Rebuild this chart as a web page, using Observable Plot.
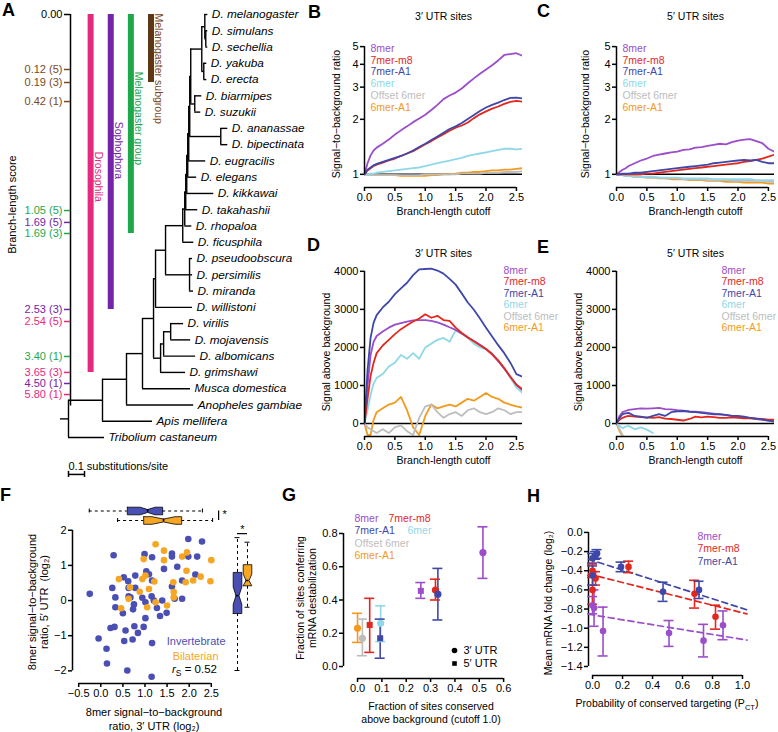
<!DOCTYPE html>
<html>
<head>
<meta charset="utf-8">
<script src="https://cdn.jsdelivr.net/npm/d3@7"></script>
<script src="https://cdn.jsdelivr.net/npm/@observablehq/plot@0.6"></script>
<style>
  html, body { margin: 0; padding: 0; background: #fff; overflow: hidden; }
  #fig { position: relative; width: 778px; height: 732px; overflow: hidden; background: #fff;
         font-family: "Liberation Sans", Arial, Helvetica, sans-serif; color: #000; }
</style>
</head>
<body>
<div id="fig"></div>
<script>
// ======================= DATA =======================
// ---- Panel A: tree ----
const leaves = ["D. melanogaster","D. simulans","D. sechellia","D. yakuba","D. erecta","D. biarmipes","D. suzukii",
  "D. ananassae","D. bipectinata","D. eugracilis","D. elegans","D. kikkawai","D. takahashii","D. rhopaloa",
  "D. ficusphila","D. pseudoobscura","D. persimilis","D. miranda","D. willistoni","D. virilis","D. mojavensis",
  "D. albomicans","D. grimshawi","Musca domestica","Anopheles gambiae","Apis mellifera","Tribolium castaneum"];
// [child, parent, branch length in substitutions/site]
const treeEdges = [
  ["root", null, 0.05],
  ["Tribolium castaneum", "root", 0.225],
  ["n1", "root", 0.2125],
  ["Apis mellifera", "n1", 0.3125],
  ["n2", "n1", 0.15],
  ["Anopheles gambiae", "n2", 0.42],
  ["n3", "n2", 0.1],
  ["Musca domestica", "n3", 0.3],
  ["drosophila", "n3", 0.069],
  ["sophophora", "drosophila", 0.0125],
  ["subgenus", "drosophila", 0.044],
  ["D. willistoni", "sophophora", 0.231],
  ["n4", "sophophora", 0.0625],
  ["obscura", "n4", 0.15],
  ["D. pseudoobscura", "obscura", 0.019],
  ["D. persimilis", "obscura", 0.019],
  ["D. miranda", "obscura", 0.025],
  ["melgroup", "n4", 0.1075],
  ["D. ficusphila", "melgroup", 0.069],
  ["m2", "melgroup", 0.0125],
  ["D. rhopaloa", "m2", 0.044],
  ["m3", "m2", 0.00625],
  ["D. takahashii", "m3", 0.075],
  ["m4", "m3", 0.00625],
  ["D. kikkawai", "m4", 0.169],
  ["m5", "m4", 0.00625],
  ["D. elegans", "m5", 0.056],
  ["m6", "m5", 0.00625],
  ["D. eugracilis", "m6", 0.106],
  ["m7", "m6", 0.00625],
  ["ana", "m7", 0.194],
  ["D. ananassae", "ana", 0.044],
  ["D. bipectinata", "ana", 0.044],
  ["m8", "m7", 0.00625],
  ["suz", "m8", 0.025],
  ["D. biarmipes", "suz", 0.044],
  ["D. suzukii", "suz", 0.0375],
  ["melsub", "m8", 0.069],
  ["ms", "melsub", 0.019],
  ["D. melanogaster", "ms", 0.019],
  ["ss", "ms", 0.006],
  ["D. simulans", "ss", 0.0125],
  ["D. sechellia", "ss", 0.0125],
  ["ye", "melsub", 0.0125],
  ["D. yakuba", "ye", 0.019],
  ["D. erecta", "ye", 0.019],
  ["vg", "subgenus", 0.019],
  ["D. grimshawi", "subgenus", 0.156],
  ["vm", "vg", 0.044],
  ["D. albomicans", "vg", 0.2],
  ["D. virilis", "vm", 0.081],
  ["D. mojavensis", "vm", 0.125]
];
const scaleBarLength = 0.1;
const scaleBarLabel = "0.1 substitutions/site";

// branch-length score axis (tick label, row of the tree it sits on, clade)
const scoreLabels = ["0.00","0.12 (5)","0.19 (3)","0.42 (1)","1.05 (5)","1.69 (5)","1.69 (3)","2.53 (3)","2.54 (5)","3.40 (1)","3.65 (3)","4.50 (1)","5.80 (1)"];
const scoreRows   = [0, 3.38, 4.18, 5.35, 12.05, 12.78, 13.46, 18.13, 18.87, 21.02, 22.0, 22.68, 23.36];
const scoreClade  = [null,"Melanogaster subgroup","Melanogaster subgroup","Melanogaster subgroup","Melanogaster group","Sophophora","Melanogaster group","Sophophora","Drosophila","Melanogaster group","Drosophila","Sophophora","Drosophila"];
const cladeNames  = ["Drosophila","Sophophora","Melanogaster group","Melanogaster subgroup"];
const cladeEndTick = ["3.65 (3)","2.53 (3)","1.69 (3)","0.19 (3)"];
const cladeColors = ["#e5297f","#7424a8","#1fa84b","#5e3816"];
const cladeTextColors = ["#e5297f","#7424a8","#1fa84b","#7a4a22"];

// ---- Panels B-E: site types ----
const siteTypes  = ["8mer","7mer-m8","7mer-A1","6mer","Offset 6mer","6mer-A1"];
const siteColors = ["#9b4dca","#e2281e","#3f48a8","#8fd8e8","#bdbdbd","#f39a1e"];
const cutoffs = [0,0.05,0.1,0.15,0.2,0.3,0.4,0.5,0.6,0.7,0.8,0.9,1.0,1.1,1.2,1.3,1.4,1.5,1.6,1.7,1.8,1.9,2.0,2.1,2.2,2.3,2.4,2.5,2.6];
const cutoffTicks = [0,0.5,1,1.5,2,2.5];

// B: 3' UTR signal-to-background ratio
const b8mer = [1.00,1.15,1.27,1.35,1.40,1.47,1.55,1.65,1.74,1.83,1.93,2.02,2.12,2.25,2.40,2.58,2.70,2.80,2.95,3.15,3.35,3.55,3.75,3.95,4.20,4.50,4.55,4.60,4.45];
const b7m8  = [1.00,1.05,1.08,1.11,1.13,1.16,1.19,1.22,1.26,1.30,1.34,1.40,1.46,1.52,1.59,1.66,1.73,1.80,1.85,1.92,2.03,2.13,2.21,2.29,2.35,2.43,2.49,2.52,2.50];
const b7A1  = [1.00,1.06,1.09,1.12,1.14,1.17,1.20,1.23,1.26,1.30,1.35,1.41,1.47,1.54,1.61,1.69,1.77,1.83,1.91,2.01,2.11,2.22,2.32,2.40,2.47,2.55,2.62,2.63,2.60];
const b6mer = [1.00,1.00,1.01,1.01,1.02,1.03,1.04,1.05,1.06,1.07,1.08,1.09,1.11,1.13,1.15,1.17,1.19,1.21,1.23,1.26,1.28,1.30,1.32,1.34,1.36,1.38,1.38,1.37,1.38];
const bOff6 = [1.00,0.99,0.99,0.99,0.99,0.99,0.99,0.99,0.99,0.99,0.99,0.99,1.00,1.00,1.00,1.00,1.00,1.00,1.01,1.01,1.01,1.01,1.02,1.02,1.02,1.03,1.03,1.03,1.04];
const b6A1  = [1.00,1.00,1.00,0.99,0.99,0.99,0.99,0.99,0.98,0.98,0.98,0.98,0.98,0.99,0.99,1.00,1.00,1.01,1.02,1.02,1.03,1.03,1.04,1.05,1.05,1.06,1.06,1.07,1.08];
// C: 5' UTR signal-to-background ratio
const c8mer = [1.00,1.03,1.06,1.08,1.11,1.15,1.19,1.22,1.26,1.28,1.30,1.32,1.33,1.36,1.37,1.40,1.41,1.43,1.45,1.47,1.46,1.50,1.53,1.55,1.56,1.52,1.48,1.38,1.33];
const c7m8  = [1.00,1.00,1.00,1.00,1.00,1.00,1.00,1.01,1.01,1.02,1.03,1.04,1.05,1.06,1.07,1.08,1.09,1.10,1.11,1.12,1.13,1.14,1.15,1.17,1.18,1.20,1.22,1.25,1.28];
const c7A1  = [1.00,1.00,1.01,1.01,1.01,1.02,1.02,1.03,1.04,1.05,1.06,1.07,1.08,1.09,1.10,1.11,1.12,1.13,1.15,1.16,1.17,1.18,1.19,1.20,1.19,1.20,1.17,1.15,1.15];
const c6mer = [1.00,0.99,0.99,0.98,0.98,0.98,0.97,0.97,0.97,0.96,0.96,0.96,0.96,0.95,0.95,0.95,0.95,0.95,0.94,0.94,0.94,0.94,0.94,0.94,0.94,0.93,0.93,0.93,0.93];
const cOff6 = [1.00,0.99,0.99,0.98,0.98,0.97,0.97,0.96,0.96,0.96,0.95,0.95,0.95,0.94,0.94,0.94,0.94,0.93,0.93,0.93,0.93,0.92,0.92,0.92,0.92,0.92,0.92,0.91,0.91];
const c6A1  = [1.00,0.99,0.99,0.98,0.98,0.97,0.97,0.96,0.96,0.95,0.95,0.94,0.94,0.94,0.93,0.93,0.93,0.92,0.92,0.92,0.91,0.91,0.91,0.90,0.90,0.90,0.90,0.89,0.89];
// D: 3' UTR signal above background
const d8mer = [0,1000,1800,2150,2300,2420,2520,2600,2640,2680,2710,2720,2720,2700,2660,2600,2530,2460,2370,2270,2170,2070,1960,1820,1640,1440,1230,1020,870];
const d7m8  = [0,650,1250,1600,1850,2050,2200,2350,2480,2580,2680,2760,2870,2780,2830,2720,2700,2520,2380,2260,2160,2060,1960,1820,1660,1460,1230,1020,900];
const d7A1  = [0,1400,2250,2650,2850,3050,3200,3400,3550,3700,3900,4050,4060,4070,4020,3940,3800,3650,3420,3180,2990,2760,2520,2290,2060,1850,1600,1300,1230];
const d6mer = [0,350,750,1050,1200,1300,1500,1600,1800,1700,1850,1700,2000,2100,2200,2250,2150,2450,2350,2250,2100,2000,1950,1850,1650,1450,1200,950,800];
const dOff6 = [0,-100,-150,-200,-250,-150,-250,-100,-50,-200,-300,150,450,500,300,150,250,300,200,350,400,300,250,300,400,350,250,300,300];
const d6A1  = [0,-300,-300,100,300,400,500,550,700,350,-100,-300,200,500,400,450,500,450,550,650,600,700,800,700,650,550,500,450,420];
// E: 5' UTR signal above background (null = below the visible range)
const e8mer = [0,200,300,330,360,380,400,390,400,410,380,370,350,340,320,310,300,280,260,240,220,200,180,160,140,120,100,80,60];
const e7m8  = [0,100,150,180,200,180,170,160,150,170,130,120,100,80,120,180,160,180,170,150,150,160,150,140,140,130,120,100,100];
const e7A1  = [0,150,250,270,280,200,180,150,200,250,200,300,320,330,310,300,280,260,240,250,230,200,200,180,150,130,110,80,50];
const e6mer = [0,-60,-120,-80,-60,-150,-100,-160,-250,null,null,null,null,null,null,null,null,null,null,null,null,null,null,null,null,null,null,null,null];
const eOff6 = [0,-150,-300,null,null,null,null,null,null,null,null,null,null,null,null,null,null,null,null,null,null,null,null,null,null,null,null,null,null];
const e6A1  = [0,-200,-330,null,null,null,null,null,null,null,null,null,null,null,null,null,null,null,null,null,null,null,null,null,null,null,null,null,null];

// ---- Panel F ----
const invX = [-0.25,-0.05,0.13,0.14,0.29,0.26,0.22,0.31,0.33,0.33,0.52,0.50,0.56,0.53,0.60,0.62,0.63,0.63,0.67,0.75,0.73,0.78,0.78,0.76,0.72,0.84,0.97,0.94,1.03,1.09,1.16,0.99,1.16,1.01,1.01,1.15,1.20,1.16,1.15,1.27,1.34,1.39,1.43,1.49,1.61,1.61,1.61,1.67,1.73,1.84,1.84,1.98,1.98,2.14,2.18,2.29];
const invY = [0.19,-1.08,-1.37,-1.79,1.29,0.36,-0.78,-0.75,0.09,-0.19,0.66,-0.36,-0.85,-1.15,-1.99,0.55,0.36,0.12,0.09,-0.11,-0.25,0.36,0.71,-0.73,-1.11,-0.92,-0.75,0.08,0.83,0.75,0.57,1.32,1.23,-0.50,-0.05,0.12,0.00,-1.21,-2.17,-0.21,-0.44,0.00,0.90,-0.35,1.34,1.25,0.40,0.05,0.96,0.05,0.57,1.25,1.75,0.74,1.25,1.68];
const bilX = [0.41,0.46,0.63,0.97,0.94,1.01,1.09,1.05,1.24,1.24,1.21,1.43,1.43,1.50,1.64,1.65,1.65,1.84,1.95,1.92,1.94,2.09,2.26,2.50,2.48,0.66,0.88];
const bilY = [0.61,-0.22,0.05,1.18,0.61,0.71,0.33,-0.19,1.60,-0.05,0.54,1.42,1.15,-0.14,0.52,0.24,0.09,1.25,1.37,0.52,0.85,0.57,0.68,1.15,0.55,0.38,0.25];
const boxGroups = ["Invertebrate","Bilaterian"];
const boxColors = ["#4a4fb3","#f5a623"];
const box3Lo  = [-0.26, 0.38], box3Q1 = [0.60, 0.97], box3Med = [1.06, 1.42], box3Q3 = [1.40, 1.83], box3Hi = [2.30, 2.53];
const box5Lo  = [-1.99, -0.19], box5Q1 = [-0.37, 0.42], box5Med = [0.14, 0.57], box5Q3 = [0.80, 1.02], box5Hi = [1.79, 1.66];
const spearman = "0.52";

// ---- Panel G ----
const g3X  = [0.515, 0.32, 0.33, 0.095, 0.02, 0.0];
const g3Y  = [0.685, 0.46, 0.435, 0.26, 0.17, 0.23];
const g3Lo = [0.53, 0.40, 0.28, 0.15, 0.065, 0.145];
const g3Hi = [0.84, 0.525, 0.59, 0.365, 0.285, 0.32];
const g5Types = ["8mer","7mer-m8","7mer-A1"];
const g5X  = [0.26, 0.05, 0.093];
const g5Y  = [0.455, 0.25, 0.17];
const g5Lo = [0.41, 0.085, 0.05];
const g5Hi = [0.505, 0.41, 0.285];

// ---- Panel H ----
const h8X  = [0.00, 0.01, 0.07, 0.51, 0.74, 0.87];
const h8Y  = [-0.76, -0.79, -1.03, -1.05, -1.13, -0.97];
const h8Lo = [-0.85, -0.98, -1.29, -1.19, -1.30, -1.12];
const h8Hi = [-0.67, -0.60, -0.78, -0.92, -0.96, -0.82];
const h7X  = [0.00, 0.00, 0.02, 0.24, 0.68, 0.82];
const h7Y  = [-0.40, -0.60, -0.48, -0.36, -0.64, -0.88];
const h7Lo = [-0.47, -0.75, -0.55, -0.42, -0.79, -1.01];
const h7Hi = [-0.33, -0.45, -0.41, -0.30, -0.50, -0.76];
const hAX  = [0.00, 0.02, 0.03, 0.00, 0.19, 0.47, 0.71];
const hAY  = [-0.27, -0.24, -0.22, -0.45, -0.36, -0.62, -0.60];
const hALo = [-0.32, -0.28, -0.27, -0.55, -0.41, -0.72, -0.69];
const hAHi = [-0.22, -0.20, -0.18, -0.35, -0.31, -0.52, -0.51];

// ======================= RENDERING =======================
const FONT = '"Liberation Sans", Arial, Helvetica, sans-serif';
const FS = 10.5;
const fig = document.getElementById("fig");
function put(node, left, top) {
  node.style.position = "absolute";
  node.style.left = left + "px";
  node.style.top = top + "px";
  fig.appendChild(node);
  return node;
}
function draw(left, top, opts) {
  const svg = Plot.plot(Object.assign({}, opts, {
    style: {background: "transparent", overflow: "visible", fontFamily: FONT, fontSize: FS + "px", color: "#000", maxWidth: "none"}
  }));
  return put(svg, left, top);
}
function htmlText(content, x, y, {anchor = "start", size = FS, color = "#000", weight = "normal"} = {}) {
  const d = document.createElement("div");
  d.innerHTML = content;
  d.style.cssText = `white-space:nowrap;font-family:${FONT};font-size:${size}px;line-height:1;color:${color};font-weight:${weight};`;
  put(d, x, y - size / 2);
  if (anchor === "middle") d.style.transform = "translateX(-50%)";
  if (anchor === "end") d.style.transform = "translateX(-100%)";
  return d;
}
const fmt1 = d3.format(".1f");
// rotated axis title, centred on the frame's left edge
const yTitle = (t, dx, extra = {}) => Plot.text([t], {frameAnchor: "left", text: d => d, rotate: -90, textAnchor: "middle", lineAnchor: "middle", dx, fontSize: FS, ...extra});
const xTitle = (t, dy, extra = {}) => Plot.text([t], {frameAnchor: "bottom", text: d => d, textAnchor: "middle", lineAnchor: "middle", dy, fontSize: FS, ...extra});

// ---------- Panel A ----------
{
  const ticks = scoreLabels.map((label, i) => ({
    label, row: scoreRows[i],
    color: scoreClade[i] == null ? "#000" : cladeTextColors[cladeNames.indexOf(scoreClade[i])]
  }));
  const clades = cladeNames.map((name, i) => ({
    name, lane: i + 1, end: scoreRows[scoreLabels.indexOf(cladeEndTick[i])],
    color: cladeColors[i], text: cladeTextColors[i]
  }));
  const rowPx = (437 - 14) / (leaves.length - 1);
  const longBars = clades.filter(d => d.end * rowPx > 120);
  const shortBars = clades.filter(d => d.end * rowPx <= 120);
  draw(0, 0, {
    width: 170, height: 440,
    x: {domain: [0, cladeNames.length], range: [70, 150.5], axis: null},
    y: {domain: [0, leaves.length - 1], range: [14, 437], axis: null},
    marks: [
      Plot.ruleX([0], {y1: 0, y2: d3.max(scoreRows) + 0.7, strokeWidth: 1.5}),
      Plot.ruleY(ticks, {y: "row", x1: 0, x2: 0, insetLeft: -6, stroke: "color", strokeWidth: 1.5}),
      Plot.text(ticks, {x: 0, y: "row", text: "label", fill: "color", textAnchor: "end", dx: -8, fontSize: 11}),
      Plot.text(["Branch-length score"], {x: 0, y: (scoreRows[0] + d3.max(scoreRows)) / 2, text: d => d, rotate: -90, textAnchor: "middle", dx: -58, fontSize: 11}),
      Plot.ruleX(clades, {x: "lane", y1: 0, y2: "end", stroke: "color", strokeWidth: 6}),
      Plot.text(longBars, {x: "lane", y: d => d.end * 0.42, text: "name", fill: "text", rotate: 90, textAnchor: "middle", dx: 7.5, dy: 12, fontSize: 10.5}),
      Plot.text(shortBars, {x: "lane", y: 0, text: "name", fill: "text", rotate: 90, textAnchor: "start", dx: 7.5, dy: -1, fontSize: 10.5})
    ]
  });

  // tree layout from the edge list
  const kids = d3.group(treeEdges.filter(e => e[1] != null), e => e[1]);
  const nodes = [];
  function layout(name, parentDepth, len) {
    const d = parentDepth + len;
    const ch = kids.get(name);
    let row, r1, r2;
    if (!ch) row = leaves.indexOf(name);
    else {
      const rs = ch.map(([c, , l]) => layout(c, d, l));
      r1 = d3.min(rs); r2 = d3.max(rs); row = (r1 + r2) / 2;
    }
    nodes.push({name, pd: parentDepth, d, row, r1, r2, leaf: !ch});
    return row;
  }
  const rootEdge = treeEdges.find(e => e[1] == null);
  layout(rootEdge[0], 0, rootEdge[2]);
  const rootDepth = rootEdge[2];
  const sbRow = leaves.length - 1 + 2.27;
  draw(0, 0, {
    width: 310, height: 490,
    x: {domain: [0, 1.5], range: [60, 300], axis: null},
    y: {domain: [0, leaves.length - 1], range: [14, 437], axis: null},
    marks: [
      Plot.ruleY(nodes, {y: "row", x1: "pd", x2: "d", strokeWidth: 1.4}),
      Plot.ruleX(nodes.filter(n => !n.leaf), {x: "d", y1: "r1", y2: "r2", strokeWidth: 1.4}),
      Plot.text(nodes.filter(n => n.leaf), {x: "d", y: "row", text: "name", dx: 4, textAnchor: "start", fontStyle: "italic", fontSize: 11.8}),
      Plot.ruleY([sbRow], {x1: rootDepth, x2: rootDepth + scaleBarLength, strokeWidth: 1.5}),
      Plot.ruleX([rootDepth, rootDepth + scaleBarLength], {x: d => d, y1: sbRow, y2: sbRow, insetTop: -3, insetBottom: -3, strokeWidth: 1.5}),
      Plot.text([scaleBarLabel], {x: rootDepth, y: sbRow, text: d => d, textAnchor: "start", dy: -8, fontSize: 11})
    ]
  });
}

// ---------- Panels B-E ----------
function linePanel(o) {
  const order = [5, 4, 3, 0, 1, 2];
  const rows = order.flatMap(k => cutoffs.map((c, i) => ({s: siteTypes[k], c, v: o.values[k][i]})));
  draw(o.left, o.top, {
    width: o.width, height: o.height,
    marginLeft: 64, marginRight: o.width - 64 - 158, marginTop: o.mt, marginBottom: o.height - o.mt - o.fh,
    x: {domain: [0, 2.6]},
    y: {type: o.yType, domain: o.yDomain},
    color: {domain: siteTypes, range: siteColors},
    marks: [
      Plot.ruleY([o.base], {stroke: "#000", strokeWidth: 1.6}),
      Plot.line(rows, {x: "c", y: "v", z: "s", stroke: "s", strokeWidth: 1.8, clip: true}),
      Plot.ruleX([0], {y1: o.yTicks[0], y2: o.yTicks[o.yTicks.length - 1], strokeWidth: 1.5}),
      Plot.ruleY([o.yDomain[0]], {x1: cutoffTicks[0], x2: cutoffTicks[cutoffTicks.length - 1], strokeWidth: 1.5}),
      Plot.axisY({ticks: o.yTicks, tickFormat: d => String(d), tickSize: 4, tickPadding: 2, label: null, strokeWidth: 1.5, fontSize: 11}),
      Plot.axisX({ticks: cutoffTicks, tickFormat: fmt1, tickSize: 4, tickPadding: 2, label: null, strokeWidth: 1.5, fontSize: 11}),
      Plot.text([o.title], {frameAnchor: "top", text: d => d, textAnchor: "middle", lineAnchor: "middle", dy: o.titleY - o.mt - o.top, fontSize: FS}),
      yTitle(o.yLabel, o.yLabelDx),
      xTitle("Branch-length cutoff", 24),
      ...siteTypes.map((s, k) => Plot.text([s], {frameAnchor: "top-left", text: d => d, textAnchor: "start", lineAnchor: "middle",
        dx: o.legendDx, dy: o.legendDy + k * o.legendStep, fill: siteColors[k], fontSize: FS}))
    ]
  });
}
const ratioOpts = {height: 220, mt: 40, fh: 147, yType: "log", yDomain: [0.847, 5.4], yTicks: [1, 2, 3, 4, 5], base: 1,
  yLabel: "Signal\u2212to\u2212background ratio", legendDx: 6, legendDy: 8, legendStep: 11.8};
const signalOpts = {height: 260, mt: 47, fh: 169, yType: "linear", yDomain: [-340, 4100], yTicks: [0, 1000, 2000, 3000, 4000], base: 0,
  yLabel: "Signal above background", yLabelDx: -38, legendDy: 3, legendStep: 11.5};
linePanel({...ratioOpts, left: 300, top: 0, width: 230, title: "3\u2032 UTR sites", titleY: 16, yLabelDx: -28,
  values: [b8mer, b7m8, b7A1, b6mer, bOff6, b6A1]});
linePanel({...ratioOpts, left: 552, top: 0, width: 226, title: "5\u2032 UTR sites", titleY: 16, yLabelDx: -31,
  values: [c8mer, c7m8, c7A1, c6mer, cOff6, c6A1]});
linePanel({...signalOpts, left: 300, top: 220, width: 230, title: "3\u2032 UTR sites", titleY: 253, legendDx: 139,
  values: [d8mer, d7m8, d7A1, d6mer, dOff6, d6A1]});
linePanel({...signalOpts, left: 552, top: 220, width: 226, title: "5\u2032 UTR sites", titleY: 253, legendDx: 105,
  values: [e8mer, e7m8, e7A1, e6mer, eOff6, e6A1]});

// ---------- Panel F ----------
{
  const xDom = [-0.64, 2.55], yDom = [-2.36, 2.05];
  const xT = [-0.5, 0, 0.5, 1, 1.5, 2, 2.5], yT = [-2, -1, 0, 1, 2];
  const inv = invX.map((x, i) => ({x, y: invY[i]}));
  const bil = bilX.map((x, i) => ({x, y: bilY[i]}));
  const counts = [inv.length, bil.length];
  draw(0, 470, {
    width: 260, height: 262, marginLeft: 72, marginRight: 47, marginTop: 58, marginBottom: 49,
    x: {domain: xDom}, y: {domain: yDom},
    marks: [
      Plot.ruleX([xDom[0]], {y1: yT[0], y2: yT[yT.length - 1], strokeWidth: 1.5}),
      Plot.ruleY([yDom[0]], {x1: xT[0], x2: xT[xT.length - 1], strokeWidth: 1.5}),
      Plot.axisY({ticks: yT, tickFormat: d3.format("d"), tickSize: 4, tickPadding: 2, label: null, strokeWidth: 1.5, fontSize: 11}),
      Plot.axisX({ticks: xT, tickFormat: fmt1, tickSize: 4, tickPadding: 2, label: null, strokeWidth: 1.5, fontSize: 11}),
      Plot.dot(inv, {x: "x", y: "y", r: 3.3, fill: boxColors[0]}),
      Plot.dot(bil, {x: "x", y: "y", r: 3.3, fill: boxColors[1]}),
      yTitle("8mer signal\u2212to\u2212background\nratio, 5\u2032 UTR  (log\u2082)", -34, {fontSize: 11, lineHeight: 1.05, dy: -4}),
      xTitle("8mer signal\u2212to\u2212background\nratio, 3\u2032 UTR (log\u2082)", 35, {fontSize: 11, lineHeight: 1.25, dx: 11}),
      Plot.text([boxGroups[0]], {frameAnchor: "bottom-right", text: d => d, textAnchor: "end", lineAnchor: "middle", dx: 12, dy: -42, fill: boxColors[0], fontSize: 11}),
      Plot.text([boxGroups[1]], {frameAnchor: "bottom-right", text: d => d, textAnchor: "end", lineAnchor: "middle", dx: 5, dy: -27, fill: boxColors[1], fontSize: 11})
    ]
  });
  htmlText(`<i>r</i><sub style="font-size:8.5px">S</sub> = ${spearman}`, 217, 670, {anchor: "end", size: 11.5});

  function notch(q1, med, q3, n, c, half, waist, horiz) {
    const w = 1.58 * (q3 - q1) / Math.sqrt(n);
    const a = Math.max(q1, med - w), b = Math.min(q3, med + w);
    const P = [[q1, c - half], [a, c - half], [med, c - waist], [b, c - half], [q3, c - half], [q3, c + half],
               [b, c + half], [med, c + waist], [a, c + half], [q1, c + half], [q1, c - half]];
    return P.map(([v, u]) => horiz ? {x: v, y: u} : {x: u, y: v});
  }
  const idx = boxGroups.map((g, i) => i);
  // top (3' UTR) boxplots
  draw(0, 495, {
    width: 260, height: 35, marginLeft: 72, marginRight: 47,
    x: {domain: xDom, axis: null},
    y: {domain: [0, 1], range: [15.5, 25], axis: null},
    marks: [
      Plot.ruleY(idx, {y: i => i, x1: i => box3Lo[i], x2: i => box3Q1[i], strokeDasharray: "3,3", strokeWidth: 1}),
      Plot.ruleY(idx, {y: i => i, x1: i => box3Q3[i], x2: i => box3Hi[i], strokeDasharray: "3,3", strokeWidth: 1}),
      Plot.ruleX(idx, {x: i => box3Lo[i], y1: i => i, y2: i => i, insetTop: -2, insetBottom: -2, strokeWidth: 1}),
      Plot.ruleX(idx, {x: i => box3Hi[i], y1: i => i, y2: i => i, insetTop: -2, insetBottom: -2, strokeWidth: 1}),
      ...idx.map(i => Plot.line(notch(box3Q1[i], box3Med[i], box3Q3[i], counts[i], i, 0.4, 0.15, true), {x: "x", y: "y", fill: boxColors[i], stroke: "#000", strokeWidth: 0.8, curve: "linear"})),
      Plot.ruleX(idx, {x: i => box3Med[i], y1: i => i - 0.15, y2: i => i + 0.15, strokeWidth: 1.6}),
      Plot.ruleX([d3.max(box3Hi)], {y1: 0, y2: 1, dx: 6, strokeWidth: 1.2}),
      Plot.text(["*"], {x: d3.max(box3Hi), y: 0, text: d => d, dx: 10, dy: 3, textAnchor: "start", fontSize: 11})
    ]
  });
  // right (5' UTR) boxplots
  draw(222, 470, {
    width: 40, height: 262, marginTop: 58, marginBottom: 49,
    x: {domain: [0, 1], range: [15, 25], axis: null},
    y: {domain: yDom, axis: null},
    marks: [
      Plot.ruleX(idx, {x: i => i, y1: i => box5Lo[i], y2: i => box5Q1[i], strokeDasharray: "3,3", strokeWidth: 1}),
      Plot.ruleX(idx, {x: i => i, y1: i => box5Q3[i], y2: i => box5Hi[i], strokeDasharray: "3,3", strokeWidth: 1}),
      Plot.ruleY(idx, {y: i => box5Lo[i], x1: i => i, x2: i => i, insetLeft: -2.5, insetRight: -2.5, strokeWidth: 1}),
      Plot.ruleY(idx, {y: i => box5Hi[i], x1: i => i, x2: i => i, insetLeft: -2.5, insetRight: -2.5, strokeWidth: 1}),
      ...idx.map(i => Plot.line(notch(box5Q1[i], box5Med[i], box5Q3[i], counts[i], i, 0.43, 0.15, false), {x: "x", y: "y", fill: boxColors[i], stroke: "#000", strokeWidth: 0.8, curve: "linear"})),
      Plot.ruleY(idx, {y: i => box5Med[i], x1: i => i - 0.15, x2: i => i + 0.15, strokeWidth: 1.6}),
      Plot.ruleY([d3.max(box5Hi)], {x1: 0, x2: 1, dy: -4, strokeWidth: 1.2}),
      Plot.text(["*"], {x: 0.5, y: d3.max(box5Hi), text: d => d, dy: -8, fontSize: 11})
    ]
  });
}

// ---------- Panel G ----------
{
  const xDom = [-0.0576, 0.62], yDom = [-0.072, 0.86];
  const xT = [0, 0.1, 0.2, 0.3, 0.4, 0.5, 0.6], yT = [0, 0.2, 0.4, 0.6, 0.8];
  const r3 = siteTypes.map((s, i) => ({s, x: g3X[i], y: g3Y[i], lo: g3Lo[i], hi: g3Hi[i]}));
  const r5 = g5Types.map((s, i) => ({s, x: g5X[i], y: g5Y[i], lo: g5Lo[i], hi: g5Hi[i]}));
  const all = r3.concat(r5);
  const legendLayout = [[0, 0, 11], [1, 0, 45], [2, 1, 11], [3, 1, 64], [4, 2, 11], [5, 3, 11]];
  draw(270, 470, {
    width: 250, height: 262, marginLeft: 73, marginRight: 12, marginTop: 53, marginBottom: 54,
    x: {domain: xDom}, y: {domain: yDom},
    color: {domain: siteTypes, range: siteColors},
    marks: [
      Plot.ruleX([xDom[0]], {y1: yT[0], y2: yT[yT.length - 1], strokeWidth: 1.5}),
      Plot.ruleY([yDom[0]], {x1: xT[0], x2: xT[xT.length - 1], strokeWidth: 1.5}),
      Plot.axisY({ticks: yT, tickFormat: fmt1, tickSize: 4, tickPadding: 2, label: null, strokeWidth: 1.5, fontSize: 11}),
      Plot.axisX({ticks: xT, tickFormat: fmt1, tickSize: 4, tickPadding: 2, label: null, strokeWidth: 1.5, fontSize: 11}),
      Plot.ruleX(all, {x: "x", y1: "lo", y2: "hi", stroke: "s", strokeWidth: 1.6}),
      Plot.ruleY(all, {y: "lo", x1: "x", x2: "x", insetLeft: -5, insetRight: -5, stroke: "s", strokeWidth: 1.6}),
      Plot.ruleY(all, {y: "hi", x1: "x", x2: "x", insetLeft: -5, insetRight: -5, stroke: "s", strokeWidth: 1.6}),
      Plot.dot(r3, {x: "x", y: "y", fill: "s", r: 3.6, symbol: "circle"}),
      Plot.dot(r5, {x: "x", y: "y", fill: "s", r: 3.4, symbol: "square"}),
      ...legendLayout.map(([k, row, dx]) => Plot.text([siteTypes[k]], {frameAnchor: "top-left", text: d => d, textAnchor: "start", lineAnchor: "middle",
        dx, dy: -5 + row * 12.4, fill: siteColors[k], fontSize: FS})),
      Plot.dot([0], {frameAnchor: "bottom-right", dx: -54, dy: -28, r: 2.8, fill: "#000", symbol: "circle"}),
      Plot.dot([0], {frameAnchor: "bottom-right", dx: -54, dy: -15, r: 2.6, fill: "#000", symbol: "square"}),
      Plot.text(["3\u2032 UTR"], {frameAnchor: "bottom-right", text: d => d, textAnchor: "start", lineAnchor: "middle", dx: -45, dy: -28, fontSize: 11}),
      Plot.text(["5\u2032 UTR"], {frameAnchor: "bottom-right", text: d => d, textAnchor: "start", lineAnchor: "middle", dx: -45, dy: -15, fontSize: 11}),
      yTitle("Fraction of sites conferring\nmRNA destabilization", -37, {dy: -3, lineHeight: 1.15}),
      xTitle("Fraction of sites conserved\nabove background (cutoff 1.0)", 34, {dx: 5, lineHeight: 1.2})
    ]
  });
}

// ---------- Panel H ----------
{
  const xDom = [-0.027, 1.06], yDom = [-1.494, 0.02];
  const xT = [0, 0.2, 0.4, 0.6, 0.8, 1.0], yT = [0, -0.2, -0.4, -0.6, -0.8, -1.0, -1.2, -1.4];
  const hTypes = ["8mer", "7mer-m8", "7mer-A1"];
  const groups = [[h8X, h8Y, h8Lo, h8Hi], [h7X, h7Y, h7Lo, h7Hi], [hAX, hAY, hALo, hAHi]];
  const pts = groups.flatMap(([X, Y, Lo, Hi], k) => X.map((x, i) => ({s: hTypes[k], x, y: Y[i], lo: Lo[i], hi: Hi[i]})));
  const fitLines = groups.flatMap(([X, Y], k) => {
    const mx = d3.mean(X), my = d3.mean(Y);
    const b = d3.sum(X, (x, i) => (x - mx) * (Y[i] - my)) / d3.sum(X, x => (x - mx) ** 2);
    const a = my - b * mx;
    return [xDom[0], xT[xT.length - 1] + 0.03].map(x => ({s: hTypes[k], x, y: a + b * x}));
  });
  draw(520, 470, {
    width: 258, height: 262, marginLeft: 68, marginRight: 27, marginTop: 60, marginBottom: 57,
    x: {domain: xDom}, y: {domain: yDom},
    color: {domain: siteTypes, range: siteColors},
    marks: [
      Plot.ruleX([xDom[0]], {y1: yT[0], y2: yT[yT.length - 1], strokeWidth: 1.5}),
      Plot.ruleY([yDom[0]], {x1: xT[0], x2: xT[xT.length - 1], strokeWidth: 1.5}),
      Plot.axisY({ticks: yT, tickFormat: fmt1, tickSize: 4, tickPadding: 2, label: null, strokeWidth: 1.5, fontSize: 11}),
      Plot.axisX({ticks: xT, tickFormat: fmt1, tickSize: 4, tickPadding: 2, label: null, strokeWidth: 1.5, fontSize: 11}),
      Plot.line(fitLines, {x: "x", y: "y", z: "s", stroke: "s", strokeWidth: 1.7, strokeDasharray: "6,4"}),
      Plot.ruleX(pts, {x: "x", y1: "lo", y2: "hi", stroke: "s", strokeWidth: 1.6}),
      Plot.ruleY(pts, {y: "lo", x1: "x", x2: "x", insetLeft: -5, insetRight: -5, stroke: "s", strokeWidth: 1.6}),
      Plot.ruleY(pts, {y: "hi", x1: "x", x2: "x", insetLeft: -5, insetRight: -5, stroke: "s", strokeWidth: 1.6}),
      Plot.dot(pts, {x: "x", y: "y", fill: "s", r: 3.3}),
      ...hTypes.map((s, k) => Plot.text([s], {frameAnchor: "top-left", text: d => d, textAnchor: "start", lineAnchor: "middle",
        dx: 109, dy: 6 + k * 12.5, fill: siteColors[k], fontSize: FS})),
      yTitle("Mean mRNA fold change (log\u2082)", -40)
    ]
  });
  htmlText(`Probability of conserved targeting (P<sub style="font-size:7.5px">CT</sub>)`, 667, 703, {anchor: "middle", size: FS});
}

// ---------- panel letters ----------
[["A", 2, 10], ["B", 308, 12], ["C", 537, 11], ["D", 307, 245], ["E", 537, 247], ["F", 0, 495], ["G", 282, 495], ["H", 527, 496]]
  .forEach(([t, x, y]) => htmlText(t, x, y, {size: 18, weight: "bold"}));
</script>
</body>
</html>
